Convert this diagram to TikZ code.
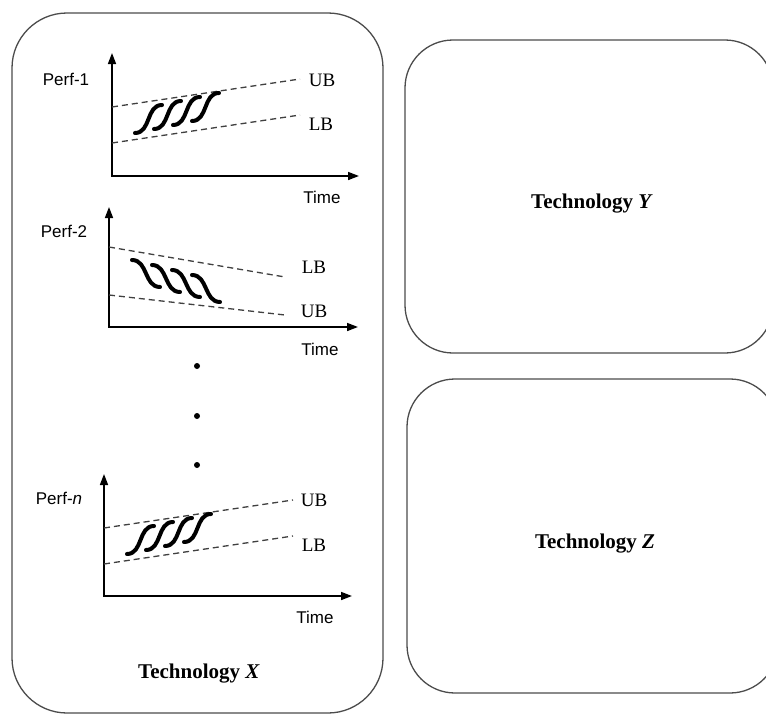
\documentclass[tikz,border=0pt]{standalone}
\usepackage{fontspec}
\setmainfont{Liberation Serif}
\newfontfamily\arialf{Liberation Sans}
\usetikzlibrary{arrows.meta}
\begin{document}
\begin{tikzpicture}[x=1pt,y=-1pt,
  panel/.style={draw=black!70, line width=1.3pt},
  axes/.style={draw=black, line width=1.6pt, {Triangle[length=11pt,width=8pt]}-{Triangle[length=11pt,width=8pt]}},
  bound/.style={draw=black!75, line width=1.3pt, dash pattern=on 6pt off 4pt},
  sline/.style={draw=black, line width=4pt, line cap=round},
  sanslab/.style={font=\arialf\fontsize{17}{20}\selectfont, inner sep=0pt, anchor=base},
  seriflab/.style={font=\fontsize{19}{22}\selectfont, inner sep=0pt, anchor=base},
  techlab/.style={font=\bfseries\fontsize{21}{24}\selectfont, inner sep=0pt, anchor=base},
  dotmark/.style={circle, fill=black, inner sep=0pt, minimum size=6pt},
  riseS/.pic={\draw[sline] (0,0) .. controls (16,0) and (11,-28) .. (27,-28);},
  fallS/.pic={\draw[sline] (0,0) .. controls (16,0) and (12,27) .. (28,27);}
]
\useasboundingbox (0,0) rectangle (766,715);
\fill[white] (0,0) rectangle (766,715);

% panels
\draw[panel, rounded corners=55pt] (12,13) rectangle (383,713);
\draw[panel, rounded corners=48pt] (405,40) rectangle (773,353);
\draw[panel, rounded corners=48pt] (407,379) rectangle (778,693);

% ---------- chart 1 ----------
\coordinate (o1) at (112,176);
\coordinate (y1) at (112,53);
\coordinate (x1) at (359,176);
\draw[axes] (y1) -- (o1) -- (x1);
\coordinate (ub1a) at (112,107); \coordinate (ub1b) at (300,79);
\coordinate (lb1a) at (112,143); \coordinate (lb1b) at (300,115);
\draw[bound] (ub1a) -- (ub1b);
\draw[bound] (lb1a) -- (lb1b);
\foreach \i in {0,1,2,3} \pic at ({135+19*\i},{133-4*\i}) {riseS};
\node[sanslab] (p1) at (66,85) {Perf-1};
\node[seriflab] (ub1) at (322,86) {UB};
\node[seriflab] (lb1) at (321,130) {LB};
\node[sanslab] (t1) at (322,203) {Time};

% ---------- chart 2 ----------
\coordinate (o2) at (109,327);
\coordinate (y2) at (109,207);
\coordinate (x2) at (358,327);
\draw[axes] (y2) -- (o2) -- (x2);
\coordinate (lb2a) at (109,247); \coordinate (lb2b) at (285,277);
\coordinate (ub2a) at (109,295); \coordinate (ub2b) at (285,315);
\draw[bound] (lb2a) -- (lb2b);
\draw[bound] (ub2a) -- (ub2b);
\foreach \i in {0,1,2,3} \pic at ({132+20*\i},{260+5*\i}) {fallS};
\node[sanslab] (p2) at (64,237) {Perf-2};
\node[seriflab] (lb2) at (314,273) {LB};
\node[seriflab] (ub2) at (314,317) {UB};
\node[sanslab] (t2) at (320,355) {Time};

% ---------- dots ----------
\node[dotmark] (d1) at (197,366) {};
\node[dotmark] (d2) at (197,416) {};
\node[dotmark] (d3) at (197,465) {};

% ---------- chart n ----------
\coordinate (on) at (104,596);
\coordinate (yn) at (104,474);
\coordinate (xn) at (352,596);
\draw[axes] (yn) -- (on) -- (xn);
\coordinate (ubna) at (104,528); \coordinate (ubnb) at (293,500);
\coordinate (lbna) at (104,564); \coordinate (lbnb) at (293,536);
\draw[bound] (ubna) -- (ubnb);
\draw[bound] (lbna) -- (lbnb);
\foreach \i in {0,1,2,3} \pic at ({127+19*\i},{554-4*\i}) {riseS};
\node[sanslab] (pn) at (59,504) {Perf-\textit{n}};
\node[seriflab] (ubn) at (314,506) {UB};
\node[seriflab] (lbn) at (314,551) {LB};
\node[sanslab] (tn) at (315,623) {Time};

% ---------- panel titles ----------
\node[techlab] (tx) at (199,678) {Technology \textit{X}};
\node[techlab] (ty) at (592,208) {Technology \textit{Y}};
\node[techlab] (tz) at (595,548) {Technology \textit{Z}};
\end{tikzpicture}
\end{document}
